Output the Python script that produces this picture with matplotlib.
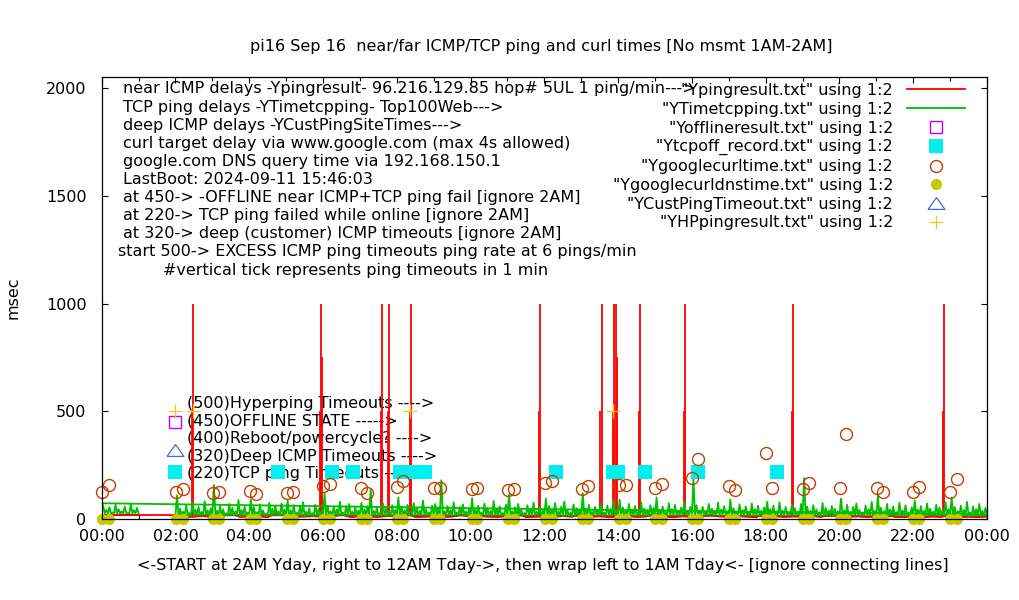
import numpy as np
import matplotlib
matplotlib.use("Agg")
import matplotlib.pyplot as plt
from matplotlib.ticker import MultipleLocator

# ---------------- data (hours of day, msec) ----------------
hour_labels = ["00:00", "02:00", "04:00", "06:00", "08:00", "10:00", "12:00",
               "14:00", "16:00", "18:00", "20:00", "22:00", "00:00"]

# near ICMP ping baseline, 15-min samples, 02:00 -> 24:00, then wrap 00:00 -> 01:00
icmp_ms_day = [12, 9, 10, 14, 8, 11, 25, 9, 10, 12,
               8, 30, 10, 9, 11, 13, 9, 10, 22, 8,
               12, 10, 9, 14, 11, 28, 9, 10, 12, 8,
               11, 20, 9, 13, 10, 9, 12, 35, 8, 10,
               11, 9, 14, 10, 24, 9, 12, 8, 10, 13,
               9, 11, 27, 10, 8, 12, 9, 10, 21, 11,
               9, 13, 10, 8, 30, 12, 9, 11, 10, 14,
               9, 23, 8, 10, 12, 9, 11, 26, 10, 9,
               13, 8, 12, 10, 19, 9, 11, 10, 12]
icmp_ms_wrap = [19, 18, 20, 19, 19]

# ICMP ping timeout ticks
icmp_timeout_h = [2.45, 2.48, 5.92, 5.95, 5.98, 7.57, 7.60, 7.76, 7.79, 8.36, 8.39,
                  11.86, 11.89, 13.52, 13.55, 13.86, 13.89, 13.94, 13.97, 14.57, 14.60,
                  15.79, 15.82, 18.71, 18.74, 22.80, 22.83]
icmp_timeout_ms = [500, 1000, 500, 1000, 750, 500, 1000, 500, 1000, 500, 1000,
                   500, 1000, 500, 1000, 500, 1000, 1000, 750, 500, 1000,
                   500, 1000, 500, 1000, 500, 1000]

# TCP ping: hours, baseline per hour and peaks every 5 minutes
tcp_hours = [0, 2, 3, 4, 5, 6, 7, 8, 9, 10, 11, 12, 13, 14, 15, 16, 17, 18, 19, 20, 21, 22, 23]
tcp_base_ms = [26, 16, 15, 16, 14, 16, 15, 17, 16, 15, 16, 14, 16, 15, 16, 17, 15, 16, 14, 16, 15, 16, 15]
tcp_peak_ms = [
    [60, 42, 55, 30, 66, 45, 35, 58, 28, 70, 40, 52],
    [110, 48, 35, 62, 28, 75, 44, 56, 33, 82, 40, 50],
    [158, 38, 60, 45, 27, 70, 52, 36, 88, 42, 58, 30],
    [90, 55, 32, 68, 40, 25, 75, 48, 60, 35, 72, 44],
    [85, 40, 64, 30, 56, 78, 35, 50, 28, 66, 46, 38],
    [120, 62, 36, 54, 44, 80, 30, 58, 70, 34, 52, 40],
    [75, 45, 60, 135, 38, 55, 28, 72, 48, 36, 64, 42],
    [100, 58, 40, 66, 32, 74, 50, 38, 86, 44, 30, 62],
    [70, 52, 180, 36, 60, 42, 78, 30, 56, 68, 34, 48],
    [97, 44, 62, 30, 72, 50, 38, 84, 46, 58, 28, 66],
    [112, 36, 54, 70, 42, 28, 64, 48, 76, 34, 56, 40],
    [95, 60, 42, 74, 35, 58, 82, 40, 30, 68, 50, 44],
    [120, 48, 66, 34, 56, 40, 72, 30, 62, 46, 88, 38],
    [90, 54, 36, 70, 44, 60, 32, 78, 48, 40, 64, 52],
    [100, 42, 58, 30, 74, 46, 66, 36, 52, 80, 34, 56],
    [190, 64, 40, 56, 30, 70, 48, 36, 76, 44, 60, 32],
    [90, 50, 34, 68, 42, 58, 28, 72, 46, 62, 38, 54],
    [80, 46, 62, 36, 78, 40, 56, 30, 66, 50, 34, 70],
    [190, 58, 38, 64, 44, 30, 74, 52, 40, 60, 48, 36],
    [95, 40, 66, 34, 56, 72, 42, 30, 62, 46, 80, 38],
    [110, 52, 36, 70, 44, 58, 32, 76, 40, 64, 30, 54],
    [85, 44, 60, 38, 72, 48, 34, 66, 54, 40, 78, 46],
    [100, 56, 36, 62, 42, 80, 30, 58, 46, 70, 38, 52],
]
tcp_end_ms = 19      # value at 24:00 before wrap
tcp_wrap_ms = 73     # first value after wrap at 00:00

# markers
offline_h = [2.0]
offline_ms = [450]
tcpoff_h = [2.0, 4.77, 6.25, 6.80, 8.09, 8.43, 8.77, 12.32, 13.87, 14.01, 14.73, 16.17, 18.31]
tcpoff_ms = [220, 220, 220, 220, 220, 220, 220, 220, 220, 220, 220, 220, 220]
curl_h = [0.02, 0.20, 2.01, 2.20, 3.02, 3.19, 4.03, 4.18, 5.03, 5.19, 6.01, 6.19,
          7.02, 7.20, 8.01, 8.17, 9.02, 9.17, 10.03, 10.18, 11.02, 11.18, 12.02, 12.20,
          13.02, 13.19, 14.03, 14.20, 15.01, 15.19, 16.01, 16.17, 17.01, 17.18, 18.01, 18.18,
          19.01, 19.18, 20.01, 20.18, 21.02, 21.18, 21.99, 22.17, 23.01, 23.19]
curl_ms = [127, 158, 124, 139, 119, 124, 130, 116, 119, 125, 152, 161,
           145, 119, 150, 178, 142, 142, 141, 145, 135, 139, 166, 176,
           139, 153, 156, 156, 142, 162, 190, 280, 152, 133, 305, 142,
           138, 166, 142, 393, 142, 124, 127, 147, 127, 184]
dns_ms = [1, 1, 1, 1, 1, 1, 1, 1, 1, 1, 1, 1,
          1, 1, 1, 1, 1, 1, 1, 1, 1, 1, 1, 1,
          1, 1, 1, 1, 1, 1, 1, 1, 1, 1, 1, 1,
          1, 1, 1, 1, 1, 1, 1, 1, 1, 1]
custtimeout_h = [2.0]
custtimeout_ms = [320]
hp_h = [2.0, 2.48, 8.36, 13.86]
hp_ms = [500, 500, 500, 500]

legend_labels = ['"Ypingresult.txt" using 1:2', '"YTimetcpping.txt" using 1:2',
                 '"Yofflineresult.txt" using 1:2', '"Ytcpoff_record.txt" using 1:2',
                 '"Ygooglecurltime.txt" using 1:2', '"Ygooglecurldnstime.txt" using 1:2',
                 '"YCustPingTimeout.txt" using 1:2', '"YHPpingresult.txt" using 1:2']

info_lines = ["near ICMP delays -Ypingresult- 96.216.129.85 hop# 5UL 1 ping/min--->",
              "TCP ping delays -YTimetcpping- Top100Web--->",
              "deep ICMP delays -YCustPingSiteTimes--->",
              "curl target delay via www.google.com (max 4s allowed)",
              "google.com DNS query time via 192.168.150.1",
              "LastBoot: 2024-09-11 15:46:03",
              "at 450-> -OFFLINE near ICMP+TCP ping fail [ignore 2AM]",
              "at 220-> TCP ping failed while online [ignore 2AM]",
              "at 320-> deep (customer) ICMP timeouts [ignore 2AM]",
              "start 500-> EXCESS ICMP ping timeouts ping rate at 6 pings/min",
              "#vertical tick represents ping timeouts in 1 min"]
key_lines = ["(500)Hyperping Timeouts ---->",
             "(450)OFFLINE STATE ----->",
             "(400)Reboot/powercycle? ---->",
             "(320)Deep ICMP Timeouts ---->",
             "(220)TCP ping Timeouts ---->"]

# ---------------- figure ----------------
W, H = 1020, 600
plt.rcParams['font.family'] = ['DejaVu Sans']
FS = 11.5
fig = plt.figure(figsize=(W / 100, H / 100), dpi=100)
X0, X1, YT, YB = 101.7, 987.0, 77.3, 519.0
ax = fig.add_axes([X0 / W, 1 - YB / H, (X1 - X0) / W, (YB - YT) / H])


def fx(px):
    return px / W


def fy(py):
    return 1 - py / H


RED, GREEN = "#ff0000", "#00c000"
PURPLE, CYAN, BROWN = "#c000ff", "#00eeee", "#c04000"
YELLOW, ROYAL, ORANGE = "#c8c800", "#4169e1", "#ffc020"

# red series: day part then wrap part
n_day = len(icmp_ms_day)
icmp_t = list(2 + 0.25 * np.arange(n_day)) + list(0.25 * np.arange(len(icmp_ms_wrap)))
icmp_v = list(icmp_ms_day) + list(icmp_ms_wrap)
red_line, = ax.plot(icmp_t, icmp_v, color=RED, lw=1.3, zorder=2.0)
base_at = np.interp(icmp_timeout_h, 2 + 0.25 * np.arange(n_day), icmp_ms_day)
ax.vlines(icmp_timeout_h, base_at, icmp_timeout_ms, color=RED, lw=1.3, zorder=2.0)

# green series: alternate hourly baseline and 5-minute peaks
day_t, day_v, wrap_t, wrap_v = [], [], [0.0], [tcp_wrap_ms]
for h, b, row in zip(tcp_hours, tcp_base_ms, tcp_peak_ms):
    for i, p in enumerate(row):
        if h == 0:
            wrap_t += [h + (i + 0.5) / 12, h + (i + 1) / 12]
            wrap_v += [p, b]
        else:
            day_t += [h + i / 12, h + (i + 0.5) / 12]
            day_v += [b, p]
day_t.append(24.0)
day_v.append(tcp_end_ms)
green_line, = ax.plot(day_t + wrap_t, day_v + wrap_v, color=GREEN, lw=1.3, zorder=2.1)

off_pts, = ax.plot(offline_h, offline_ms, ls="none", marker="s", ms=8.2, mfc="none",
                   mec=PURPLE, mew=1.0, zorder=2.2, clip_on=False)
tcpoff_pts, = ax.plot(tcpoff_h, tcpoff_ms, ls="none", marker="s", ms=9.4, mfc=CYAN,
                      mec=CYAN, mew=0, zorder=2.25, clip_on=False)
curl_pts, = ax.plot(curl_h, curl_ms, ls="none", marker="o", ms=8.6, mfc="none",
                    mec=BROWN, mew=1.0, zorder=2.3, clip_on=False)
dns_pts, = ax.plot(curl_h, dns_ms, ls="none", marker="o", ms=8.0, mfc=YELLOW,
                   mec=YELLOW, mew=0, zorder=2.35, clip_on=False)
tri = [(-1, -0.7), (1, -0.7), (0, 0.7), (-1, -0.7)]
cust_pts, = ax.plot(custtimeout_h, custtimeout_ms, ls="none", marker=tri, ms=12.2,
                    mfc="none", mec=ROYAL, mew=0.9, zorder=2.4, clip_on=False)
hp_pts, = ax.plot(hp_h, hp_ms, ls="none", marker="+", ms=9.4, mec=ORANGE, mew=0.9,
                  zorder=2.45, clip_on=False)

# axes styling
ax.set_xlim(0, 24)
ax.set_ylim(0, 2050)
ax.set_xticks(np.arange(0, 25, 2))
ax.set_xticklabels(hour_labels)
ax.xaxis.set_minor_locator(MultipleLocator(1))
ax.set_yticks([0, 500, 1000, 1500, 2000])
ax.tick_params(which="both", direction="in", top=True, right=True, width=0.8,
               labelsize=FS, colors="black")
ax.tick_params(which="major", length=4.5)
ax.tick_params(which="minor", length=2.8)
ax.tick_params(axis="x", pad=7.5)
ax.tick_params(axis="y", pad=11)
for s in ax.spines.values():
    s.set_linewidth(0.9)
    s.set_zorder(3)

# texts
fig.text(fx(541), fy(51.5), "pi16 Sep 16  near/far ICMP/TCP ping and curl times [No msmt 1AM-2AM]",
         ha="center", va="baseline", fontsize=FS)
fig.text(fx(543), fy(570), "<-START at 2AM Yday, right to 12AM Tday->, then wrap left to 1AM Tday<- [ignore connecting lines]",
         ha="center", va="baseline", fontsize=FS)
fig.text(fx(13), fy(298), "msec", rotation=90, ha="center", va="center", fontsize=FS)

info_x = [122.7] * 9 + [118.3, 163.3]
for i, (s, x) in enumerate(zip(info_lines, info_x)):
    ax.text(fx(x), fy(93.5 + 18.1 * i), s, transform=fig.transFigure, ha="left",
            va="baseline", fontsize=FS, zorder=1)

key_y = [407.7, 426.0, 442.7, 461.0, 478.0]
for s, y in zip(key_lines, key_y):
    ax.text(fx(186.7), fy(y), s, transform=fig.transFigure, ha="left",
            va="baseline", fontsize=FS, zorder=1)

handles = [red_line, green_line, off_pts, tcpoff_pts, curl_pts, dns_pts, cust_pts, hp_pts]
leg = ax.legend(handles, legend_labels, loc="upper right",
                bbox_to_anchor=(fx(965), fy(83)), bbox_transform=fig.transFigure,
                frameon=False, markerfirst=False, handlelength=3.65, handletextpad=0.85,
                labelspacing=0.235, borderpad=0, borderaxespad=0, fontsize=FS,
                numpoints=1)
leg.set_zorder(5)

fig.savefig("out.png", dpi=100)
